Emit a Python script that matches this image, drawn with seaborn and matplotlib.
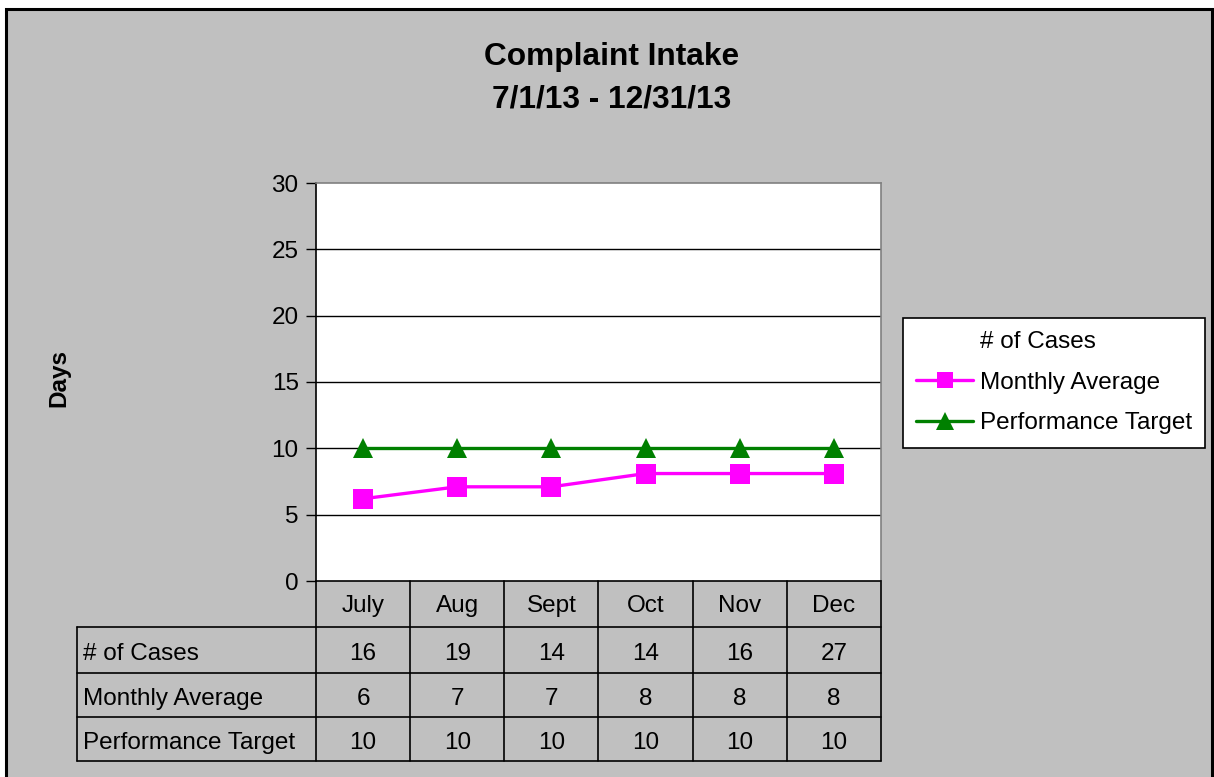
import numpy as np
import pandas as pd
import matplotlib
matplotlib.use("Agg")
import matplotlib.pyplot as plt
import seaborn as sns
from matplotlib.lines import Line2D
from matplotlib.patches import Rectangle

# ---- data ----
months = ["July", "Aug", "Sept", "Oct", "Nov", "Dec"]
num_cases = [16, 19, 14, 14, 16, 27]
monthly_average = [6.2, 7.1, 7.1, 8.1, 8.1, 8.1]
monthly_average_table = [6, 7, 7, 8, 8, 8]
performance_target = [10, 10, 10, 10, 10, 10]
row_labels = ["# of Cases", "Monthly Average", "Performance Target"]
y_ticks = [0, 5, 10, 15, 20, 25, 30]

sns.set_theme(style="white")
plt.rcParams["font.family"] = ["Liberation Sans", "DejaVu Sans"]
plt.rcParams["text.color"] = "black"

FS = 17.5
W, H = 1214, 777
fig = plt.figure(figsize=(W / 100, H / 100), dpi=100)
fig.patch.set_facecolor("white")

# gray chart area with black border
fig.patches.append(Rectangle((6 / W, -0.02), (1212 - 6) / W, (777 - 9) / H + 0.02,
                             transform=fig.transFigure, facecolor="#C0C0C0",
                             edgecolor="black", linewidth=2.2, zorder=-5))

ax = fig.add_axes([316 / W, 1 - 581 / H, 565 / W, 398 / H])
ax.set_facecolor("white")

x = np.arange(len(months))
df = pd.DataFrame({
    "x": np.concatenate([x, x]),
    "value": monthly_average + performance_target,
    "series": ["Monthly Average"] * len(x) + ["Performance Target"] * len(x),
})

# grid lines
for yv in y_ticks[1:-1]:
    ax.axhline(yv, color="black", linewidth=1.0, zorder=1)

sns.lineplot(data=df, x="x", y="value", hue="series", style="series",
             palette={"Monthly Average": "#FF00FF", "Performance Target": "#008000"},
             markers={"Monthly Average": "s", "Performance Target": "^"},
             dashes=False, markersize=14, linewidth=2.4, markeredgewidth=0,
             legend=False, ax=ax, zorder=3, clip_on=False)

ax.set_xlim(-0.5, len(months) - 0.5)
ax.set_ylim(0, 30)
ax.set_yticks(y_ticks)
ax.set_yticklabels([str(v) for v in y_ticks], fontsize=FS, color="black")
ax.tick_params(axis="y", left=True, length=7, width=1, pad=5.5, color="black")
ax.set_xticks(x)
ax.set_xticklabels(months, fontsize=FS, color="black")
ax.tick_params(axis="x", bottom=False, length=0, pad=10)
ax.set_xlabel("")
ax.set_ylabel("Days", fontsize=FS, fontweight="bold", labelpad=0, color="black")
ax.yaxis.set_label_coords(-(316 - 70) / 565, (581 - 378) / 398)

for side in ["left", "bottom"]:
    ax.spines[side].set_color("black")
    ax.spines[side].set_linewidth(1.2)
for side in ["top", "right"]:
    ax.spines[side].set_color("#808080")
    ax.spines[side].set_linewidth(1.2)
    ax.spines[side].set_visible(True)

# ---- data table ----
px_y = lambda py: (581 - py) / 398.0  # pixel y -> axes y
row_edges = [581, 627, 673, 717, 761]
label_left = (77 - 316) / 565.0
tr = ax.get_xaxis_transform()
lw = 1.2
for py in row_edges[1:]:
    ax.plot([label_left, 1], [px_y(py), px_y(py)], transform=ax.transAxes,
            color="black", linewidth=lw, clip_on=False)
for b in np.arange(len(months) + 1) - 0.5:
    ax.plot([b, b], [px_y(581), px_y(761)], transform=tr, color="black",
            linewidth=lw, clip_on=False)
ax.plot([label_left, label_left], [px_y(627), px_y(761)], transform=ax.transAxes,
        color="black", linewidth=lw, clip_on=False)

rows = [num_cases, monthly_average_table, performance_target]
for r, (lab, vals) in enumerate(zip(row_labels, rows)):
    yc = px_y((row_edges[r + 1] + row_edges[r + 2]) / 2 + 4)
    ax.text(label_left + 6 / 565, yc, lab, transform=ax.transAxes, ha="left",
            va="center", fontsize=FS, color="black")
    for i, v in enumerate(vals):
        ax.text(x[i], yc, str(v), transform=tr, ha="center", va="center",
                fontsize=FS, color="black")

# ---- title ----
fig.text(612 / W, 1 - 57 / H, "Complaint Intake", ha="center", va="center",
         fontsize=22.8, fontweight="bold")
fig.text(612 / W, 1 - 99 / H, "7/1/13 - 12/31/13", ha="center", va="center",
         fontsize=22.8, fontweight="bold")

# ---- legend ----
handles = [
    Line2D([], [], color="none", marker=None, linewidth=0),
    Line2D([], [], color="#FF00FF", marker="s", markersize=12, linewidth=2.4,
           markeredgewidth=0),
    Line2D([], [], color="#008000", marker="^", markersize=13, linewidth=2.4,
           markeredgewidth=0),
]
leg = fig.legend(handles, row_labels, loc="upper left",
                 bbox_to_anchor=(903 / W, 1 - 318 / H), fontsize=FS,
                 frameon=True, fancybox=False, edgecolor="black", framealpha=1,
                 handlelength=2.35, handletextpad=0.25, labelspacing=0.76,
                 borderpad=0.55, borderaxespad=0)
leg.get_frame().set_linewidth(1.2)
leg.get_frame().set_facecolor("white")

fig.savefig("out.png", dpi=100, facecolor=fig.get_facecolor())
